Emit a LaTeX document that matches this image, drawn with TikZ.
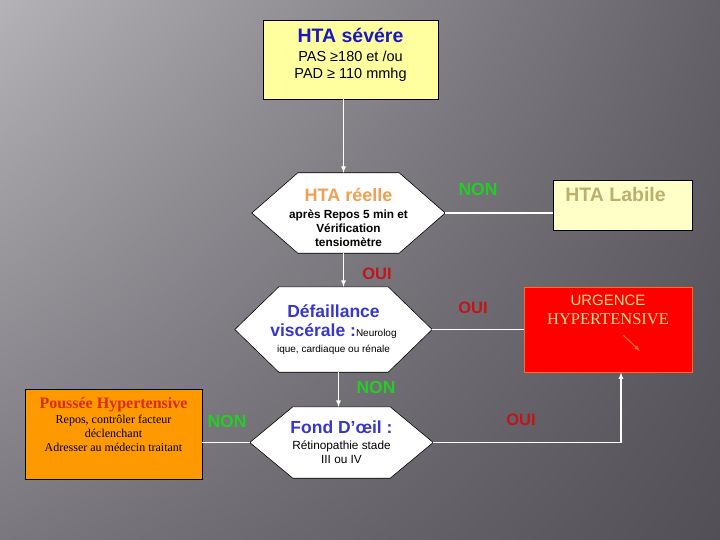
\documentclass[tikz,border=0pt]{standalone}
\usepackage{fontspec}
\setmainfont{Liberation Sans}
\newfontfamily\timesfont{Liberation Serif}
\usepackage{xcolor}
\usepackage{tikz}
\usetikzlibrary{arrows, shadings, backgrounds}

\definecolor{bgul}{RGB}{180,178,183}
\definecolor{bgur}{RGB}{100,98,104}
\definecolor{bgll}{RGB}{122,120,126}
\definecolor{bglr}{RGB}{82,80,86}
\definecolor{titleblue}{RGB}{25,25,190}
\definecolor{hexblue}{RGB}{55,55,205}
\definecolor{ouired}{RGB}{195,20,25}
\definecolor{nongreen}{RGB}{35,205,35}
\definecolor{boxyellow}{RGB}{255,255,160}
\definecolor{labileyellow}{RGB}{255,255,200}
\definecolor{labiletext}{RGB}{188,175,112}
\definecolor{reelleorange}{RGB}{240,160,80}
\definecolor{urgtext}{RGB}{245,222,140}
\definecolor{urgred}{RGB}{255,0,0}
\definecolor{urgborder}{RGB}{255,110,30}
\definecolor{pousseeorange}{RGB}{255,153,0}
\definecolor{pousseered}{RGB}{215,45,20}

\begin{document}
\begin{tikzpicture}[
    x=1pt, y=-1pt,
    box/.style={draw=black, rectangle, align=center, inner sep=1pt, line width=0.8pt},
    hexa/.style={rectangle, align=center, inner sep=0pt},
    hexline/.style={draw=black, fill=white, line width=0.6pt},
    arrow/.style={-latex, draw=white, line width=1.2pt},
    link/.style={draw=white, line width=1.2pt},
    nonlbl/.style={font=\fontsize{17.5}{19}\selectfont\bfseries, text=nongreen, inner sep=0pt},
    ouilbl/.style={font=\fontsize{16.5}{18}\selectfont\bfseries, text=ouired, inner sep=0pt}
]
\useasboundingbox (0,0) rectangle (720,540);

% Nodes
\node[box, fill=boxyellow, minimum width=175pt, minimum height=79pt, font=\fontsize{14.5}{17}\selectfont] (severe) at (350.5,59.5)
    {{\fontsize{19.5}{19.5}\selectfont\bfseries\color{titleblue}HTA sévére}\\[2pt] PAS ≥180 et /ou\\ PAD ≥ 110 mmhg\rule[-12pt]{0pt}{12pt}};
\node[hexa, minimum width=193pt, minimum height=80pt, font=\fontsize{11.8}{13.8}\selectfont\bfseries] (reelle) at (348.5,213)
    {\rule{0pt}{22pt}{\fontsize{18}{18}\selectfont\color{reelleorange}HTA réelle}\\[3.5pt] après Repos 5 min et\\ Vérification\\ tensiomètre};
\node[box, fill=labileyellow, minimum width=139pt, minimum height=50pt, font=\fontsize{19.5}{20}\selectfont\bfseries, text=labiletext] (labile) at (622.5,205)
    {HTA Labile\kern14pt\rule[-21pt]{0pt}{21pt}};
\node[hexa, minimum width=197pt, minimum height=85pt, font=\fontsize{10}{16}\selectfont] (defaillance) at (333.5,329.5)
    {{\fontsize{17.5}{17.5}\selectfont\bfseries\color{hexblue}Défaillance}\\[3pt] {\fontsize{17.5}{17.5}\selectfont\bfseries\color{hexblue}viscérale :}Neurolog\\ ique, cardiaque ou rénale};
\node[box, draw=urgborder, fill=urgred, minimum width=168pt, minimum height=85pt, text=urgtext, font=\fontsize{15}{19}\selectfont] (urgence) at (608,329.5)
    {URGENCE\\ {\timesfont\fontsize{16.5}{19}\selectfont HYPERTENSIVE}\rule[-39pt]{0pt}{39pt}};
\node[hexa, minimum width=183pt, minimum height=71pt, font=\fontsize{11.8}{14.3}\selectfont] (fond) at (341.5,442.5)
    {{\fontsize{17.5}{17.5}\selectfont\bfseries\color{hexblue}Fond D’œil :}\\[1pt] Rétinopathie stade\\ III ou IV};
\node[box, fill=pousseeorange, minimum width=177pt, minimum height=90pt, font=\timesfont\fontsize{12}{14.3}\selectfont] (poussee) at (113.5,434)
    {{\fontsize{16}{16}\selectfont\bfseries\color{pousseered}Poussée Hypertensive}\\[0.7pt] Repos, contrôler facteur\\ déclenchant\\ Adresser au médecin traitant\rule[-19pt]{0pt}{19pt}};

% Background and hexagon outlines
\begin{pgfonlayer}{background}
\shade[upper left=bgul, upper right=bgur, lower left=bgll, lower right=bglr] (0,0) rectangle (720,540);
\foreach \n/\d in {reelle/46, defaillance/44, fond/43}
    \draw[hexline] (\n.west) -- ([xshift=\d pt]\n.north west) -- ([xshift=-\d pt]\n.north east)
        -- (\n.east) -- ([xshift=-\d pt]\n.south east) -- ([xshift=\d pt]\n.south west) -- cycle;
\end{pgfonlayer}

% Answers
\node[nonlbl] (non1) at (478,189) {NON};
\node[ouilbl] (oui1) at (377,274) {OUI};
\node[ouilbl] (oui2) at (473,308) {OUI};
\node[nonlbl] (non2) at (376,387) {NON};
\node[ouilbl] (oui3) at (521,420) {OUI};
\node[nonlbl] (non3) at (227,421) {NON};

% Connectors
\draw[arrow] ([xshift=-7pt]severe.south) -- ([xshift=-7pt]severe.south |- reelle.north);
\draw[link] (reelle.east) -- (labile.west |- reelle.east);
\draw[arrow] ([xshift=-5pt]reelle.south) -- ([xshift=-5pt]reelle.south |- defaillance.north);
\draw[link] (defaillance.east) -- (urgence.west |- defaillance.east);
\draw[arrow] ([xshift=5pt]defaillance.south) -- ([xshift=5pt]defaillance.south |- fond.north);
\draw[arrow] (fond.east) -| ([xshift=13pt]urgence.south);
\draw[link] (fond.west) -- (poussee.east |- fond.west);

% small arrow in the red box
\draw[-latex, draw=urgborder, line width=1pt] (623,335) -- (640,351);
\end{tikzpicture}
\end{document}
